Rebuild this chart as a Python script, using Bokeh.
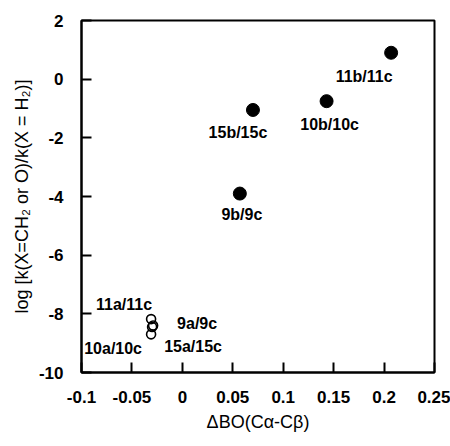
from bokeh.plotting import figure
from bokeh.models import Range1d, FixedTicker, ColumnDataSource
from bokeh.core.properties import value
from bokeh.embed import file_html
from bokeh.resources import INLINE

# ---------------- data ----------------
filled_names = ["11b/11c", "10b/10c", "15b/15c", "9b/9c"]
filled_x = [0.207, 0.143, 0.070, 0.057]
filled_y = [0.90, -0.75, -1.05, -3.90]

open_names = ["11a/11c", "9a/9c", "10a/10c", "15a/15c"]
open_x = [-0.031, -0.029, -0.030, -0.031]
open_y = [-8.18, -8.40, -8.45, -8.70]

x_ticks = [-0.1, -0.05, 0, 0.05, 0.1, 0.15, 0.2, 0.25]
x_tick_labels = ["-0.1", "-0.05", "0", "0.05", "0.1", "0.15", "0.2", "0.25"]
y_ticks = [-10, -8, -6, -4, -2, 0, 2]
y_tick_labels = ["-10", "-8", "-6", "-4", "-2", "0", "2"]

x_title = "\u0394BO(C\u03b1-C\u03b2)"
y_title = "log [k(X=CH\u2082 or O)/k(X = H\u2082)]"

# label offsets from their points (screen px)
filled_dx = [-27, 3, -15, 2]
filled_dy = [24, 23, 23, 21]
open_dx = [-27, 44, -39, 42]
open_dy = [-15, -2, 21, 12]

W, H = 450, 446
FONT = "Liberation Sans"

p = figure(width=W, height=H, x_range=Range1d(-0.1, 0.25), y_range=Range1d(-10, 2),
           output_backend="svg", toolbar_location=None,
           min_border_left=81, min_border_right=16, min_border_top=20, min_border_bottom=74)
p.grid.visible = False
p.outline_line_color = "black"
p.outline_line_width = 2
p.background_fill_color = "white"
p.border_fill_color = "white"

p.xaxis.ticker = FixedTicker(ticks=x_ticks)
p.xaxis.major_label_overrides = dict(zip(x_ticks, x_tick_labels))
p.yaxis.ticker = FixedTicker(ticks=y_ticks)
p.yaxis.major_label_overrides = dict(zip(y_ticks, y_tick_labels))
p.xaxis.axis_label = x_title
p.yaxis.axis_label = y_title
p.xaxis.axis_label_standoff = 6
p.yaxis.axis_label_standoff = 4
for ax in (p.xaxis, p.yaxis):
    ax.axis_line_color = "black"
    ax.axis_line_width = 2
    ax.major_tick_in = 10
    ax.major_tick_out = 0
    ax.major_tick_line_width = 2
    ax.major_tick_line_color = "black"
    ax.minor_tick_line_color = None
    ax.major_label_text_font = FONT
    ax.major_label_text_font_style = "bold"
    ax.major_label_text_font_size = "17px"
    ax.major_label_text_color = "black"
    ax.major_label_standoff = 18
    ax.axis_label_text_font = FONT
    ax.axis_label_text_font_style = "normal"
    ax.axis_label_text_font_size = "18px"
    ax.axis_label_text_color = "black"

src_f = ColumnDataSource(dict(x=filled_x, y=filled_y, name=filled_names, dx=filled_dx, dy=filled_dy))
src_o = ColumnDataSource(dict(x=open_x, y=open_y, name=open_names, dx=open_dx, dy=open_dy))

p.scatter("x", "y", source=src_f, size=13, marker="circle", fill_color="black", line_color="black")
p.scatter("x", "y", source=src_o, size=9, marker="circle", fill_color=None, line_color="black", line_width=1.6)

for src in (src_f, src_o):
    p.text("x", "y", text="name", source=src, x_offset="dx", y_offset="dy",
           text_font=value(FONT), text_font_style="bold", text_font_size="16px",
           text_align="center", text_baseline="middle", text_color="black")

open("out.html", "w").write(file_html(p, INLINE))
